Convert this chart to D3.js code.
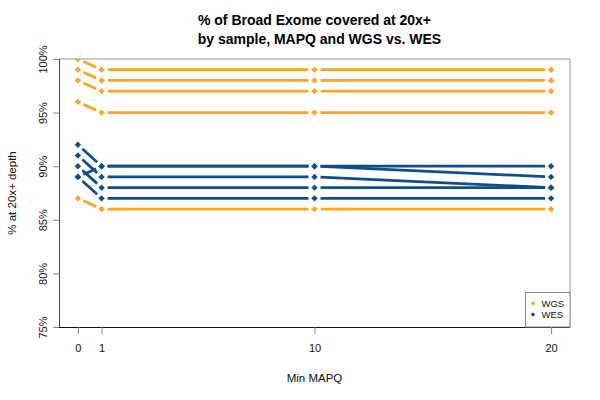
<!DOCTYPE html>
<html><head><meta charset="utf-8">
<script src="https://cdn.jsdelivr.net/npm/d3@7/dist/d3.min.js"></script>
<style>body{margin:0;background:#fff}svg{display:block;font-family:"Liberation Sans",Arial,Helvetica,sans-serif}</style>
</head><body><svg id="c" width="600" height="400"></svg>
<script>
// ---- data ----
const mapq = [0, 1, 10, 20];
const yTicks = [75, 80, 85, 90, 95, 100];
const wgs = [
  [100, 99, 99, 99],
  [99, 98, 98, 98],
  [98, 97, 97, 97],
  [96, 95, 95, 95],
  [87, 86, 86, 86]
];
const wes = [
  [92, 90, 90, 90],
  [89, 90, 90, 89],
  [91, 89, 89, 88],
  [90, 88, 88, 88],
  [89, 87, 87, 87]
];
const seriesNames = ["WGS", "WES"];
const colors = {WGS: "#FBA624", WES: "#104E8B"};

// ---- layout ----
const L = 59, R = 570, T = 59, B = 327;
const svg = d3.select("#c");
const x = d3.scaleLinear().domain([-0.8, 20.8]).range([L, R]);
const y = d3.scaleLinear().domain([75, 100]).range([B, T]);

svg.append("defs").append("clipPath").attr("id", "clip")
  .append("rect").attr("x", L).attr("y", T).attr("width", R - L).attr("height", B - T);

const plot = svg.append("g").attr("clip-path", "url(#clip)");
const gap = 6;
function drawSeries(data, color) {
  data.forEach(s => {
    const pts = s.map((v, i) => [x(mapq[i]), y(v)]);
    for (let i = 0; i < pts.length - 1; i++) {
      const [x1, y1] = pts[i], [x2, y2] = pts[i + 1];
      const dx = x2 - x1, dy = y2 - y1, len = Math.hypot(dx, dy);
      if (len <= 2 * gap) continue;
      const ux = dx / len, uy = dy / len;
      plot.append("line")
        .attr("x1", x1 + ux * gap).attr("y1", y1 + uy * gap)
        .attr("x2", x2 - ux * gap).attr("y2", y2 - uy * gap)
        .attr("stroke", color).attr("stroke-width", 2.8).attr("stroke-linecap", "butt");
    }
    pts.forEach(([px, py]) => {
      const r = 3.2;
      plot.append("path")
        .attr("d", `M${px},${py - r}L${px + r},${py}L${px},${py + r}L${px - r},${py}Z`)
        .attr("fill", color);
    });
  });
}
drawSeries(wgs, colors.WGS);
drawSeries(wes, colors.WES);

// ---- box ----
svg.append("line").attr("x1", L).attr("x2", R).attr("y1", T).attr("y2", T).attr("stroke", "#999");
svg.append("line").attr("x1", R).attr("x2", R).attr("y1", T).attr("y2", B).attr("stroke", "#999");
svg.append("line").attr("x1", L).attr("x2", R).attr("y1", B + 0.5).attr("y2", B + 0.5).attr("stroke", "#111");
svg.append("line").attr("x1", L + 0.5).attr("x2", L + 0.5).attr("y1", T).attr("y2", B).attr("stroke", "#444");

// ---- axes ----
const xAxis = svg.append("g").attr("transform", `translate(0,${B})`)
  .call(d3.axisBottom(x).tickValues(mapq).tickSize(7).tickPadding(10).tickFormat(d3.format("d")));
xAxis.select(".domain").remove();
xAxis.selectAll(".tick line").attr("stroke", "#888");
xAxis.selectAll("text").attr("font-size", 11).attr("fill", "#111").attr("font-family", "Liberation Sans, Arial, sans-serif");

const yAxis = svg.append("g").attr("transform", `translate(${L},0)`)
  .call(d3.axisLeft(y).tickValues(yTicks).tickSize(6).tickFormat(d => d + "%"));
yAxis.select(".domain").remove();
yAxis.selectAll(".tick line").attr("stroke", "#888");
yAxis.selectAll("text").remove();
yAxis.selectAll(".tick").append("text")
  .attr("transform", "translate(-12,0) rotate(-90)")
  .attr("text-anchor", "middle").attr("font-size", 11).attr("fill", "#111")
  .attr("font-family", "Liberation Sans, Arial, sans-serif")
  .text(d => d + "%");

// ---- labels ----
svg.append("text").attr("x", (L + R) / 2).attr("y", 382).attr("text-anchor", "middle")
  .attr("font-size", 11.5).attr("fill", "#111").text("Min MAPQ");
svg.append("text").attr("transform", `translate(16,${(T + B) / 2}) rotate(-90)`)
  .attr("text-anchor", "middle").attr("font-size", 11.5).attr("fill", "#111").text("% at 20x+ depth");
const title = ["% of Broad Exome covered at 20x+", " by sample, MAPQ and WGS vs. WES"];
title.forEach((t, i) => {
  svg.append("text").attr("x", (L + R) / 2 + (i ? 3 : 0)).attr("y", 25 + i * 19).attr("text-anchor", "middle")
    .attr("font-size", 14).attr("font-weight", "bold").attr("fill", "#000")
    .style("white-space", "pre").text(t);
});

// ---- legend ----
const lg = svg.append("g");
lg.append("rect").attr("x", 525.5).attr("y", 292.5).attr("width", R - 525.5).attr("height", B - 292.5)
  .attr("fill", "#fff").attr("stroke", "#888");
seriesNames.forEach((n, i) => {
  const cy = 303.5 + i * 11;
  lg.append("path").attr("d", `M533,${cy - 2.2}L535.2,${cy}L533,${cy + 2.2}L530.8,${cy}Z`).attr("fill", colors[n]);
  lg.append("text").attr("x", 541.5).attr("y", cy + 3.5).attr("font-size", 9.5).attr("fill", "#111").text(n);
});
</script></body></html>
